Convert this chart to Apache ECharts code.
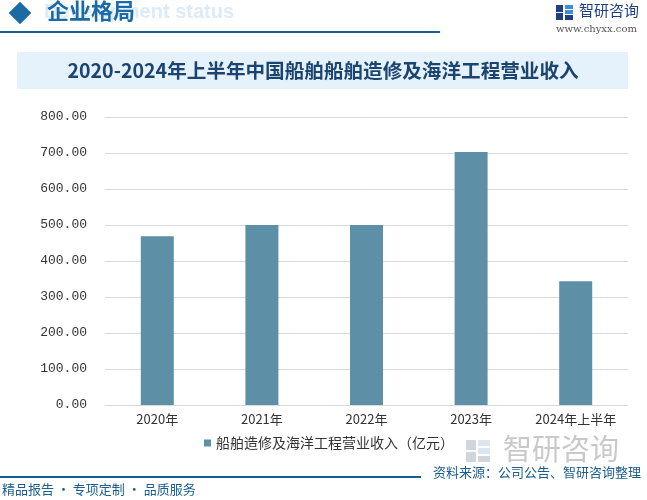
<!DOCTYPE html>
<html>
<head>
<meta charset="utf-8">
<script src="https://cdn.jsdelivr.net/npm/echarts@6/dist/echarts.min.js"></script>
<style>
html,body{margin:0;padding:0;background:#fff;}
#c{width:647px;height:500px;}
</style>
</head>
<body>
<div id="c"></div>
<script>
var categories = ['2020年', '2021年', '2022年', '2023年', '2024年上半年'];
var revenue = [469, 500, 500, 703, 344];
var seriesName = '船舶造修及海洋工程营业收入（亿元）';
var yTicks = {min: 0, max: 800, interval: 100};

var chart = echarts.init(document.getElementById('c'), null, {renderer: 'canvas'});
var cjk = '"Noto Sans CJK SC", sans-serif';
var dark = '#1a5d8f';

chart.setOption({
  backgroundColor: '#fff',
  animation: false,
  graphic: [
    {type: 'text', left: 44, top: 2, z: 1, style: {text: 'Development status', font: 'bold 20px "Liberation Sans", Arial', fill: '#dcebf7'}},
    {type: 'rect', shape: {x: -8, y: -8, width: 16, height: 16}, x: 20, y: 13, rotation: Math.PI / 4, style: {fill: '#1a6aa6'}, z: 3},
    {type: 'text', left: 47, top: 0, z: 3, style: {text: '企业格局', font: 'bold 22px ' + cjk, fill: '#1a6aa6'}},
    {type: 'rect', shape: {x: 0, y: 31, width: 440, height: 2}, style: {fill: '#1a5d8f'}},
    {type: 'rect', shape: {x: 556, y: 5, width: 7, height: 7}, style: {fill: '#1d3f86'}},
    {type: 'rect', shape: {x: 556, y: 13, width: 7, height: 7}, style: {fill: '#1d3f86'}},
    {type: 'rect', shape: {x: 565, y: 5, width: 8, height: 4}, style: {fill: '#3a8fd6'}},
    {type: 'rect', shape: {x: 565, y: 10, width: 8, height: 4}, style: {fill: '#3a8fd6'}},
    {type: 'rect', shape: {x: 565, y: 15, width: 8, height: 5}, style: {fill: '#1d3f86'}},
    {type: 'text', left: 579, top: 3, style: {text: '智研咨询', font: '15px ' + cjk, fill: '#1d3f86'}},
    {type: 'text', left: 556, top: 24, style: {text: 'www.chyxx.com', font: '10px "DejaVu Serif", serif', fill: '#555'}},
    {type: 'rect', shape: {x: 17, y: 52, width: 611, height: 37}, style: {fill: '#e5f2fb'}},
    {type: 'text', x: 323, y: 71, style: {text: '2020-2024年上半年中国船舶船舶造修及海洋工程营业收入', font: 'bold 19.6px ' + cjk, fill: '#1b4470', align: 'center', verticalAlign: 'middle'}},
    {type: 'rect', shape: {x: 466, y: 440, width: 10, height: 10}, style: {fill: '#d0d6de'}},
    {type: 'rect', shape: {x: 466, y: 452, width: 10, height: 10}, style: {fill: '#d0d6de'}},
    {type: 'rect', shape: {x: 478, y: 440, width: 12, height: 6}, style: {fill: '#dbe6f0'}},
    {type: 'rect', shape: {x: 478, y: 448, width: 12, height: 6}, style: {fill: '#dbe6f0'}},
    {type: 'rect', shape: {x: 478, y: 456, width: 12, height: 6}, style: {fill: '#d0d6de'}},
    {type: 'text', left: 503, top: 434, z: 0, style: {text: '智研咨询', font: '29px ' + cjk, fill: '#c9c9c9'}},
    {type: 'rect', shape: {x: 0, y: 476, width: 421, height: 2}, style: {fill: '#1a5d8f'}},
    {type: 'text', left: 433, top: 466, style: {text: '资料来源：公司公告、智研咨询整理', font: '13px ' + cjk, fill: dark}},
    {type: 'text', left: 2, top: 483, style: {text: '精品报告 · 专项定制 · 品质服务', font: '13px ' + cjk, fill: dark}}
  ],
  grid: {left: 105, right: 19, top: 117, bottom: 95, containLabel: false},
  legend: {
    data: [seriesName],
    bottom: 45,
    left: 199,
    itemWidth: 7,
    itemHeight: 7,
    itemGap: 4,
    icon: 'rect',
    textStyle: {fontFamily: cjk, fontSize: 14, color: '#333'}
  },
  xAxis: {
    type: 'category',
    data: categories,
    axisLine: {show: true, lineStyle: {color: '#d9d9d9'}},
    axisTick: {show: false},
    axisLabel: {color: '#333', fontSize: 13, fontFamily: cjk, margin: 8, interval: 0}
  },
  yAxis: {
    type: 'value',
    min: yTicks.min,
    max: yTicks.max,
    interval: yTicks.interval,
    axisLine: {show: false},
    axisTick: {show: false},
    splitLine: {lineStyle: {color: '#d9d9d9'}},
    axisLabel: {
      color: '#333', fontSize: 13, fontFamily: '"Liberation Mono", monospace', margin: 18,
      formatter: function (v) { return v.toFixed(2); }
    }
  },
  series: [{
    name: seriesName,
    type: 'bar',
    data: revenue,
    barWidth: 33,
    itemStyle: {color: '#5d8fa7'}
  }]
});
</script>
</body>
</html>
